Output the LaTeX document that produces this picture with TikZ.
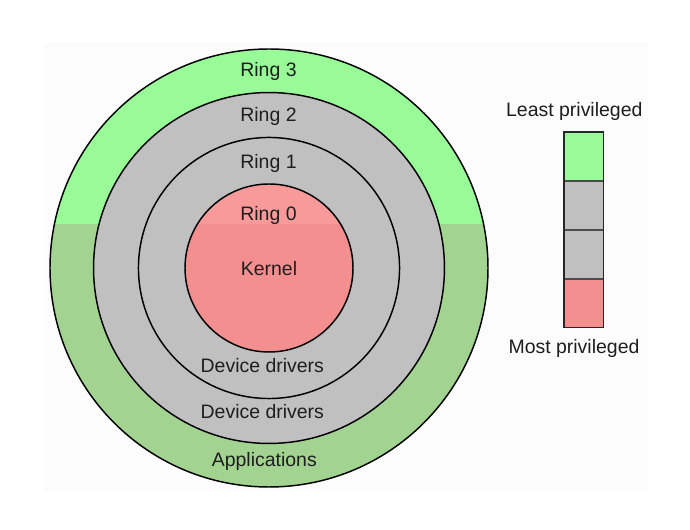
\documentclass[tikz,border=0pt]{standalone}
\usepackage{fontspec}
\setmainfont{Liberation Sans}
\definecolor{greenup}{HTML}{98FB98}
\definecolor{greenlow}{HTML}{A3D391}
\definecolor{grayring}{HTML}{C0C0C0}
\definecolor{redup}{HTML}{F89A9A}
\definecolor{redlow}{HTML}{F48F90}
\definecolor{faintbg}{HTML}{FCFCFC}
\definecolor{txt}{HTML}{1E1E1E}
\tikzset{
  ringline/.style={draw=black, line width=1.1pt},
  lbl/.style={font=\fontsize{14.6}{17}\selectfont, text=txt, anchor=base, inner sep=0pt},
  cell/.style={draw=black!70, line width=1pt},
}
\begin{document}
\begin{tikzpicture}[x=0.75pt,y=-0.75pt]
\useasboundingbox (0,0) rectangle (690,530);
\fill[white] (0,0) rectangle (690,530);
\fill[faintbg] (43.5,43.5) rectangle (648,491.7);
\coordinate (c) at (269,268);
% outer ring 3
\fill[greenlow] (c) circle[radius=164.25pt];
\begin{scope}
  \clip (0,0) rectangle (690,224);
  \fill[greenup] (c) circle[radius=164.25pt];
\end{scope}
% ring 2
\fill[grayring] (c) circle[radius=131.6pt];
% ring 1
\fill[grayring] (c) circle[radius=97.9pt];
% ring 0
\fill[redlow] (c) circle[radius=63pt];
\begin{scope}
  \clip (0,0) rectangle (690,224);
  \fill[redup] (c) circle[radius=63pt];
\end{scope}
\draw[ringline] (c) circle[radius=164.25pt];
\draw[ringline] (c) circle[radius=131.6pt];
\draw[ringline] (c) circle[radius=97.9pt];
\draw[ringline] (c) circle[radius=63pt];
% labels
\node[lbl] (r3) at (268.5,76.7) {Ring 3};
\node[lbl] (r2) at (268.5,122) {Ring 2};
\node[lbl] (r1) at (268.5,169) {Ring 1};
\node[lbl] (r0) at (268.5,220.7) {Ring 0};
\node[lbl] (k) at (269,275.7) {Kernel};
\node[lbl] (dd1) at (262.3,372.3) {Device drivers};
\node[lbl] (dd2) at (262.3,419) {Device drivers};
\node[lbl] (app) at (264.3,466.7) {Applications};
% legend
\fill[greenup] (564,132.3) rectangle (603.3,181);
\fill[grayring] (564,181) rectangle (603.3,230);
\fill[grayring] (564,230) rectangle (603.3,279);
\fill[redlow] (564,279) rectangle (603.3,327.7);
\draw[cell] (564,181) -- (603.3,181);
\draw[cell] (564,230) -- (603.3,230);
\draw[cell] (564,279) -- (603.3,279);
\draw[draw=black!85, line width=1.2pt] (564,132.3) rectangle (603.3,327.7);
\node[lbl] (lp) at (574.3,116.7) {Least privileged};
\node[lbl] (mp) at (574,353.5) {Most privileged};
\end{tikzpicture}
\end{document}
